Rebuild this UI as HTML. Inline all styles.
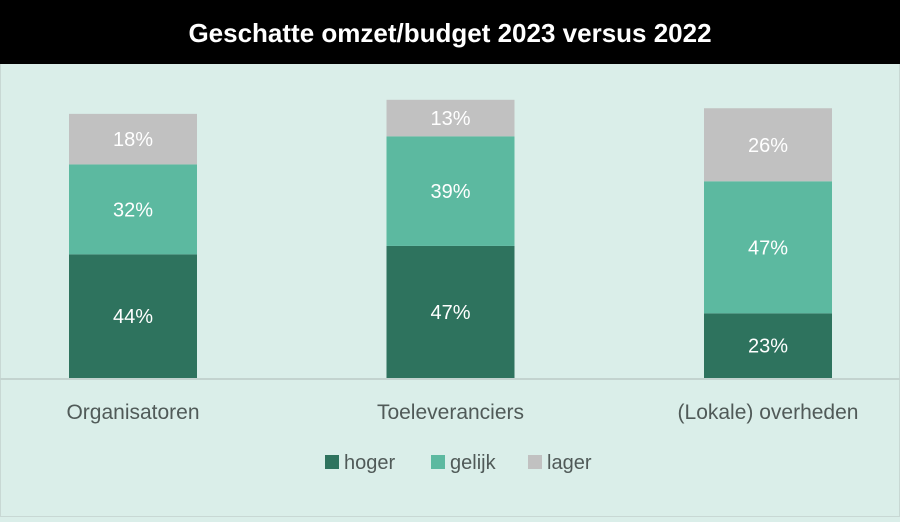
<!DOCTYPE html>
<html><head><meta charset="utf-8"><style>
body{margin:0;width:900px;height:517px;overflow:hidden;background:#daeee9;font-family:"Liberation Sans",sans-serif}
</style></head><body>
<svg width="900" height="517" xmlns="http://www.w3.org/2000/svg">
<rect x="0" y="0" width="900" height="517" fill="#daeee9" stroke="#c8d8d4" stroke-width="2"/>
<rect x="0" y="0" width="900" height="64" fill="#000"/>
<text x="450" y="42" text-anchor="middle" fill="#fff" font-size="26" font-weight="bold">Geschatte omzet/budget 2023 versus 2022</text>
<g id="bars"></g>
<line x1="0" y1="379" x2="900" y2="379" stroke="#c3d3cf" stroke-width="2"/>
<g id="labels"></g>
<g>
<rect x="325" y="455" width="14" height="14" fill="#2e735e"/>
<text x="344" y="469" font-size="20" fill="#505a58">hoger</text>
<rect x="431" y="455" width="14" height="14" fill="#5cb9a0"/>
<text x="450" y="469" font-size="20" fill="#505a58">gelijk</text>
<rect x="528" y="455" width="14" height="14" fill="#c1c1c1"/>
<text x="547" y="469" font-size="20" fill="#505a58">lager</text>
</g>
</svg>
<script>
const categories=["Organisatoren","Toeleveranciers","(Lokale) overheden"];
const hoger=[44,47,23];
const gelijk=[32,39,47];
const lager=[18,13,26];
const seriesNames=["hoger","gelijk","lager"];
const colors=["#2e735e","#5cb9a0","#c1c1c1"];
const NS="http://www.w3.org/2000/svg";
const base=378, pxPer=2.81, barW=128;
function y(v){return base-v*pxPer;}
function xc(i){return 133+i*317.5;}
const bars=document.getElementById('bars');
const labels=document.getElementById('labels');
const series=[hoger,gelijk,lager];
categories.forEach((c,i)=>{
  let cum=0;
  series.forEach((s,k)=>{
    const v=s[i];
    const r=document.createElementNS(NS,'rect');
    r.setAttribute('x',xc(i)-barW/2);
    r.setAttribute('y',y(cum+v));
    r.setAttribute('width',barW);
    r.setAttribute('height',v*pxPer);
    r.setAttribute('fill',colors[k]);
    
    
    bars.appendChild(r);
    const t=document.createElementNS(NS,'text');
    t.setAttribute('x',xc(i));
    t.setAttribute('y',y(cum+v/2)+7);
    t.setAttribute('text-anchor','middle');
    t.setAttribute('font-size','20');
    t.setAttribute('fill','#fff');
    t.textContent=v+'%';
    
    
    bars.appendChild(t);
    cum+=v;
  });
  const l=document.createElementNS(NS,'text');
  l.setAttribute('x',xc(i));
  l.setAttribute('y',419);
  l.setAttribute('text-anchor','middle');
  l.setAttribute('font-size','21');
  l.setAttribute('fill','#505a58');
  l.textContent=c;
  
  
  labels.appendChild(l);
});
</script>
</body></html>
